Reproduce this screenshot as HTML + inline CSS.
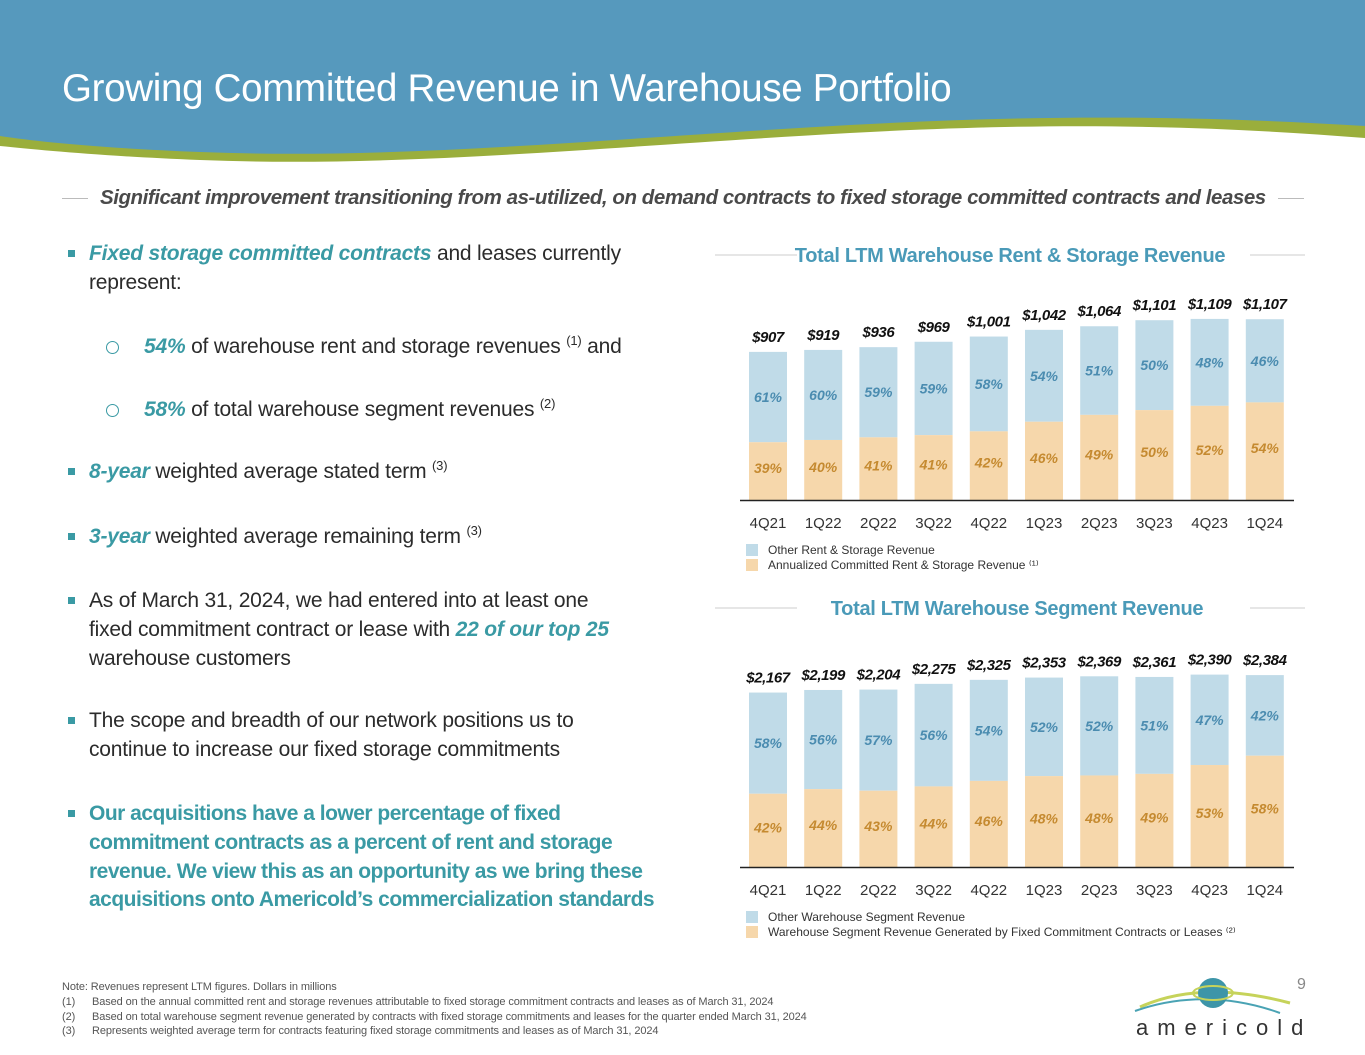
<!DOCTYPE html>
<html><head><meta charset="utf-8">
<style>
body{margin:0;width:1365px;height:1055px;position:relative;overflow:hidden;background:#fff;font-family:"Liberation Sans",sans-serif;}
.t{position:absolute;white-space:nowrap;font-size:21px;letter-spacing:-0.2px;color:#2b2b2b;line-height:24px;}
.em{color:#3a9aa4;font-style:italic;font-weight:bold;}
.b{position:absolute;width:7px;height:7px;background:#3a9aa4;}
.c{position:absolute;width:11px;height:11px;border:1.5px solid #3a9aa4;border-radius:50%;}
sup{font-size:13px;vertical-align:8px;line-height:0;}
.fn{position:absolute;white-space:nowrap;font-size:11px;color:#555;letter-spacing:-0.1px;}
</style></head><body>
<svg style="position:absolute;left:0;top:0" width="1365" height="170">
<path d="M0 0H1365V138C1200 125 1050 122 850 133C600 147 400 168 200 160C100 156 40 150 0 146Z" fill="#9aae3c"/>
<path d="M0 0H1365V126C1200 116 1050 114 850 125C600 139 400 160 200 152C100 148 40 142 0 136Z" fill="#5699bd"/>
</svg>
<div style="position:absolute;left:62px;top:67px;font-size:38.5px;color:#fff;letter-spacing:-0.3px;white-space:nowrap">Growing Committed Revenue in Warehouse Portfolio</div>
<div style="position:absolute;left:62px;top:198px;width:26px;height:1px;background:#bbb"></div>
<div style="position:absolute;left:1278px;top:198px;width:26px;height:1px;background:#bbb"></div>
<div style="position:absolute;left:100px;top:186px;font-size:20.5px;font-style:italic;font-weight:bold;color:#4a4a4a;letter-spacing:-0.45px;white-space:nowrap">Significant improvement transitioning from as-utilized, on demand contracts to fixed storage committed contracts and leases</div>

<div>
<div class="b" style="left:68px;top:250px"></div>
<div class="t" style="left:89px;top:242px"><span class="em">Fixed storage committed contracts</span> and leases currently</div>
<div class="t" style="left:89px;top:271px">represent:</div>
<div class="c" style="left:106px;top:341px"></div>
<div class="t" style="left:144px;top:335px"><span class="em">54%</span> of warehouse rent and storage revenues <sup>(1)</sup> and</div>
<div class="c" style="left:106px;top:404px"></div>
<div class="t" style="left:144px;top:398px"><span class="em">58%</span> of total warehouse segment revenues <sup>(2)</sup></div>
<div class="b" style="left:68px;top:468px"></div>
<div class="t" style="left:89px;top:460px"><span class="em">8-year</span> weighted average stated term <sup>(3)</sup></div>
<div class="b" style="left:68px;top:533px"></div>
<div class="t" style="left:89px;top:525px"><span class="em">3-year</span> weighted average remaining term <sup>(3)</sup></div>
<div class="b" style="left:68px;top:597px"></div>
<div class="t" style="left:89px;top:589px">As of March 31, 2024, we had entered into at least one</div>
<div class="t" style="left:89px;top:618px">fixed commitment contract or lease with <span class="em">22 of our top 25</span></div>
<div class="t" style="left:89px;top:647px">warehouse customers</div>
<div class="b" style="left:68px;top:717px"></div>
<div class="t" style="left:89px;top:709px">The scope and breadth of our network positions us to</div>
<div class="t" style="left:89px;top:738px">continue to increase our fixed storage commitments</div>
<div class="b" style="left:68px;top:810px"></div>
<div class="t" style="left:89px;top:802px;color:#3a9aa4;font-weight:bold;letter-spacing:-0.5px">Our acquisitions have a lower percentage of fixed</div>
<div class="t" style="left:89px;top:831px;color:#3a9aa4;font-weight:bold;letter-spacing:-0.5px">commitment contracts as a percent of rent and storage</div>
<div class="t" style="left:89px;top:860px;color:#3a9aa4;font-weight:bold;letter-spacing:-0.5px">revenue. We view this as an opportunity as we bring these</div>
<div class="t" style="left:89px;top:888px;color:#3a9aa4;font-weight:bold;letter-spacing:-0.5px">acquisitions onto Americold’s commercialization standards</div>
</div>

<div>
<div class="fn" style="left:62px;top:981px">Note: Revenues represent LTM figures. Dollars in millions</div>
<div class="fn" style="left:62px;top:996px">(1)</div><div class="fn" style="left:92px;top:996px">Based on the annual committed rent and storage revenues attributable to fixed storage commitment contracts and leases as of March 31, 2024</div>
<div class="fn" style="left:62px;top:1011px">(2)</div><div class="fn" style="left:92px;top:1011px">Based on total warehouse segment revenue generated by contracts with fixed storage commitments and leases for the quarter ended March 31, 2024</div>
<div class="fn" style="left:62px;top:1025px">(3)</div><div class="fn" style="left:92px;top:1025px">Represents weighted average term for contracts featuring fixed storage commitments and leases as of March 31, 2024</div>
</div>
<div style="position:absolute;left:1297px;top:976px;font-size:16px;color:#888">9</div>
<svg style="position:absolute;left:1120px;top:975px" width="190" height="65">
<path d="M20 32C60 14 110 12 170 28" stroke="#c6d35a" stroke-width="3" fill="none"/>
<path d="M15 36C60 20 110 20 160 38" stroke="#4aa3b4" stroke-width="2" fill="none"/>
<circle cx="93" cy="18" r="15" fill="#3d95a8"/>
<ellipse cx="93" cy="18" rx="20" ry="7" stroke="#c6d35a" stroke-width="2" fill="none"/>
<text x="16" y="60" font-family="Liberation Sans,sans-serif" font-size="22" letter-spacing="9" fill="#333">americold</text>
</svg>

<svg id="chart1" style="position:absolute;left:0;top:0" width="1365" height="1055"></svg>

<script>
const categories=["4Q21","1Q22","2Q22","3Q22","4Q22","1Q23","2Q23","3Q23","4Q23","1Q24"];
const rentTotals=[907,919,936,969,1001,1042,1064,1101,1109,1107];
const rentTotalLabels=["$907","$919","$936","$969","$1,001","$1,042","$1,064","$1,101","$1,109","$1,107"];
const rentCommittedPct=[39,40,41,41,42,46,49,50,52,54];
const rentOtherPct=[61,60,59,59,58,54,51,50,48,46];
const segTotals=[2167,2199,2204,2275,2325,2353,2369,2361,2390,2384];
const segTotalLabels=["$2,167","$2,199","$2,204","$2,275","$2,325","$2,353","$2,369","$2,361","$2,390","$2,384"];
const segFixedPct=[42,44,43,44,46,48,48,49,53,58];
const segOtherPct=[58,56,57,56,54,52,52,51,47,42];

const NS="http://www.w3.org/2000/svg";
const svg=document.getElementById('chart1');
function mk(tag,attrs,txt){const e=document.createElementNS(NS,tag);for(const k in attrs)e.setAttribute(k,attrs[k]);if(txt!==undefined)e.textContent=txt;svg.appendChild(e);return e;}
const xPos=i=>768+i*55.2;
const BW=38;

function drawChart(cfg){
  const y=v=>cfg.base-v*cfg.scale;
  let t=mk('text',{x:cfg.titleX,y:cfg.titleY,'font-size':20,'font-weight':'bold',fill:'#4a9ab8','text-anchor':'middle','font-family':'Liberation Sans,sans-serif','letter-spacing':'-0.3'},cfg.title);
  
  
  let l1=mk('line',{x1:715,x2:797,y1:cfg.titleY-7,y2:cfg.titleY-7,stroke:'#ccc'});
  
  
  let l2=mk('line',{x1:1250,x2:1305,y1:cfg.titleY-7,y2:cfg.titleY-7,stroke:'#ccc'});
  
  
  cfg.totals.forEach((v,i)=>{
    const cx=xPos(i), top=y(v), h=cfg.base-top;
    const hb=h*cfg.low[i]/100;
    let r1=mk('rect',{x:cx-BW/2,y:top,width:BW,height:h-hb,fill:'#c0dbe8'});
    
    
    let r2=mk('rect',{x:cx-BW/2,y:cfg.base-hb,width:BW,height:hb,fill:'#f6d7ab'});
    
    
    let a=mk('text',{x:cx,y:top-10,'font-size':15,'font-weight':'bold','font-style':'italic','text-anchor':'middle',fill:'#111','font-family':'Liberation Sans,sans-serif','letter-spacing':'-0.4'},cfg.labels[i]);
    
    
    let b=mk('text',{x:cx,y:top+(h-hb)/2+5,'font-size':14,'font-weight':'bold','font-style':'italic','text-anchor':'middle',fill:'#4b8cb0','font-family':'Liberation Sans,sans-serif'},cfg.high[i]+'%');
    
    
    let c=mk('text',{x:cx,y:cfg.base-hb/2+2,'font-size':14,'font-weight':'bold','font-style':'italic','text-anchor':'middle',fill:'#c58a30','font-family':'Liberation Sans,sans-serif'},cfg.low[i]+'%');
    
    
    let d=mk('text',{x:cx,y:cfg.base+28,'font-size':15,'text-anchor':'middle',fill:'#333','font-family':'Liberation Sans,sans-serif'},categories[i]);
    
    
  });
  let ax=mk('line',{x1:740,x2:1294,y1:cfg.base+0.5,y2:cfg.base+0.5,stroke:'#222','stroke-width':1.5});
  
  
  const ly=cfg.base+44;
  let s1=mk('rect',{x:746,y:ly,width:12,height:12,fill:'#c0dbe8'});
  
  
  let s2=mk('rect',{x:746,y:ly+15,width:12,height:12,fill:'#f6d7ab'});
  
  
  let t1=mk('text',{x:768,y:ly+10,'font-size':12,fill:'#333','font-family':'Liberation Sans,sans-serif'},cfg.leg1);
  
  
  let t2=mk('text',{x:768,y:ly+25,'font-size':12,fill:'#333','font-family':'Liberation Sans,sans-serif'},cfg.leg2);
  
  
}
drawChart({key:'rent',base:500,scale:0.1633,totals:rentTotals,labels:rentTotalLabels,low:rentCommittedPct,high:rentOtherPct,title:'Total LTM Warehouse Rent & Storage Revenue',titleX:1010,titleY:262,leg1:'Other Rent & Storage Revenue',leg2:'Annualized Committed Rent & Storage Revenue ⁽¹⁾'});
drawChart({key:'segment',base:867,scale:0.0805,totals:segTotals,labels:segTotalLabels,low:segFixedPct,high:segOtherPct,title:'Total LTM Warehouse Segment Revenue',titleX:1017,titleY:615,leg1:'Other Warehouse Segment Revenue',leg2:'Warehouse Segment Revenue Generated by Fixed Commitment Contracts or Leases ⁽²⁾'});
</script>
</body></html>
